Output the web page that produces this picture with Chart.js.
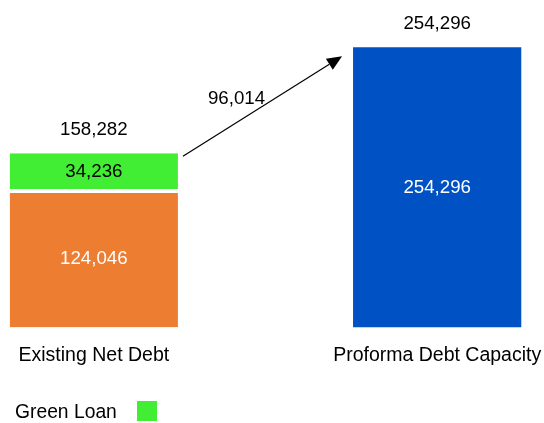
<!DOCTYPE html>
<html>
<head>
<meta charset="utf-8">
<script src="https://cdn.jsdelivr.net/npm/chart.js@4/dist/chart.umd.min.js"></script>
<style>
html,body{margin:0;padding:0;background:#fff;}
#wrap{width:544px;height:423px;position:relative;}
</style>
</head>
<body>
<div id="wrap"><canvas id="c" width="544" height="423"></canvas></div>
<script>
const categories = ['Existing Net Debt', '', 'Proforma Debt Capacity'];
const existingDebt = [124046, null, null];
const greenLoan = [34236, null, null];
const proformaCapacity = [null, null, 254296];
const legendLabel = 'Green Loan';

const FONT = 'Liberation Sans, Arial, sans-serif';
const fmt = v => v.toLocaleString('en-US');

const labelPlugin = {
  id: 'labels',
  afterDatasetsDraw(chart) {
    const ctx = chart.ctx;
    const y = chart.scales.y;
    ctx.save();
    ctx.font = '18.7px ' + FONT;
    ctx.textAlign = 'center';
    ctx.textBaseline = 'middle';
    const colors = ['#ffffff', '#000000', '#ffffff'];
    chart.data.datasets.forEach((ds, di) => {
      const meta = chart.getDatasetMeta(di);
      meta.data.forEach((bar, i) => {
        const v = ds.data[i];
        if (v == null) return;
        const top = bar.y, bottom = bar.base;
        ctx.fillStyle = colors[di];
        ctx.fillText(fmt(v), bar.x, (top + bottom) / 2);
      });
    });
    // totals
    const totals = categories.map((c, i) => (existingDebt[i] || 0) + (greenLoan[i] || 0) + (proformaCapacity[i] || 0));
    const x = chart.scales.x;
    ctx.fillStyle = '#000';
    totals.forEach((t, i) => {
      if (!t) return;
      ctx.fillText(fmt(t), x.getPixelForValue(i), y.getPixelForValue(t) - 23);
    });
    // arrow
    const b1 = chart.getDatasetMeta(1).data[0];
    const b2 = chart.getDatasetMeta(2).data[2];
    const sx = b1.x + b1.width / 2 + 5, sy = y.getPixelForValue(totals[0]) + 3;
    const ex = b2.x - b2.width / 2 - 11, ey = y.getPixelForValue(totals[2]) + 9;
    const ang = Math.atan2(ey - sy, ex - sx);
    const hl = 15, hw = 6.5;
    const bx = ex - hl * Math.cos(ang), by = ey - hl * Math.sin(ang);
    ctx.strokeStyle = '#000';
    ctx.lineWidth = 1.2;
    ctx.beginPath();
    ctx.moveTo(sx, sy);
    ctx.lineTo(bx, by);
    ctx.stroke();
    ctx.beginPath();
    ctx.moveTo(ex, ey);
    ctx.lineTo(bx - hw * Math.sin(ang), by + hw * Math.cos(ang));
    ctx.lineTo(bx + hw * Math.sin(ang), by - hw * Math.cos(ang));
    ctx.closePath();
    ctx.fill();
    ctx.fillText(fmt(totals[2] - totals[0]), (sx + ex) / 2 - 26, (sy + ey) / 2 - 7);
    // legend
    ctx.font = '19.3px ' + FONT;
    ctx.textAlign = 'left';
    ctx.fillText(legendLabel, 15, 413);
    ctx.fillStyle = '#41EE33';
    ctx.fillRect(137, 401, 20, 20);
    ctx.restore();
  }
};

new Chart(document.getElementById('c'), {
  type: 'bar',
  data: {
    labels: categories,
    datasets: [
      { label: 'Existing', data: existingDebt, backgroundColor: '#ED7D31', borderColor: '#ffffff', borderWidth: {top: 2, left: 0, right: 0, bottom: 0}, borderSkipped: false, stack: 's' },
      { label: legendLabel, data: greenLoan, backgroundColor: '#41EE33', borderColor: '#ffffff', borderWidth: {top: 0, left: 0, right: 0, bottom: 2}, borderSkipped: false, stack: 's' },
      { label: 'Proforma', data: proformaCapacity, backgroundColor: '#0051C3', borderWidth: 0, stack: 's' }
    ]
  },
  options: {
    responsive: false,
    animation: false,
    events: [],
    layout: { padding: { left: 8, right: 21, top: 19, bottom: 40 } },
    plugins: { legend: { display: false }, tooltip: { enabled: false } },
    scales: {
      x: {
        stacked: true,
        grid: { display: false, drawTicks: false },
        border: { display: false },
        ticks: { color: '#000', font: { family: FONT, size: 19.5 }, padding: 16, maxRotation: 0, autoSkip: false },
        afterFit: (s) => { s.paddingLeft = 0; s.paddingRight = 0; }
      },
      y: {
        stacked: true,
        display: false,
        min: 0,
        max: 280000
      }
    },
    datasets: { bar: { barPercentage: 0.98, categoryPercentage: 1 } }
  },
  plugins: [labelPlugin]
});
</script>
</body>
</html>
